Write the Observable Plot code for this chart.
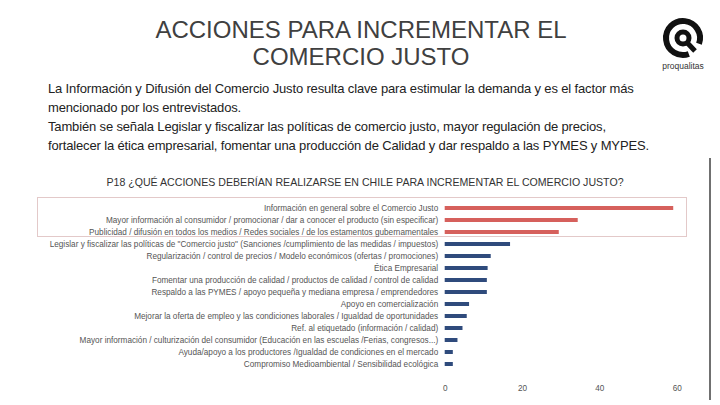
<!DOCTYPE html>
<html>
<head>
<meta charset="utf-8">
<script src="https://cdn.jsdelivr.net/npm/d3@7"></script>
<script src="https://cdn.jsdelivr.net/npm/@observablehq/plot@0.6"></script>
<style>
  html, body { margin: 0; padding: 0; background: #fff; }
  body { width: 720px; height: 405px; position: relative; overflow: hidden; font-family: "Liberation Sans", Arial, sans-serif; }
  #title { position: absolute; left: 0; top: 16px; width: 722px; text-align: center; font-size: 24px; line-height: 27px; color: #404040; }
  #para { position: absolute; left: 48px; top: 79px; font-size: 13px; letter-spacing: -0.15px; line-height: 19px; color: #222; white-space: nowrap; }
  #ctitle { position: absolute; left: 0; top: 176px; width: 730px; text-align: center; font-size: 10.6px; color: #333; }
  #chart { position: absolute; left: 0; top: 160px; }
  #box { position: absolute; left: 37px; top: 197px; width: 650px; height: 40px; border: 1px solid #e3c9c9; box-sizing: border-box; }
  #rline { position: absolute; left: 709px; top: 158px; width: 1.5px; height: 242px; background: #707070; }
  #logo { position: absolute; left: 650px; top: 14px; }
</style>
</head>
<body>
<div id="title">ACCIONES PARA INCREMENTAR EL<br>COMERCIO JUSTO</div>
<div id="para">La Información y Difusión del Comercio Justo resulta clave para estimular la demanda y es el factor más<br>mencionado por los entrevistados.<br>También se señala Legislar y fiscalizar las políticas de comercio justo, mayor regulación de precios,<br>fortalecer la ética empresarial, fomentar una producción de Calidad y dar respaldo a las PYMES y MYPES.</div>
<svg id="logo" width="66" height="62" viewBox="0 0 66 62">
  <path d="M 38.8 40 A 17 17 0 1 1 49 29.8" fill="none" stroke="#111" stroke-width="6"/>
  <circle cx="33" cy="24" r="6" fill="none" stroke="#111" stroke-width="5"/>
  <path d="M 36.5 28 L 45 37" fill="none" stroke="#111" stroke-width="5"/>
  <text x="33" y="55" text-anchor="middle" font-size="8.5" font-family="Liberation Sans, sans-serif" fill="#333">proqualitas</text>
</svg>
<div id="ctitle">P18 ¿QUÉ ACCIONES DEBERÍAN REALIZARSE EN CHILE PARA INCREMENTAR EL COMERCIO JUSTO?</div>
<div id="box"></div>
<div id="rline"></div>
<div id="chart"></div>
<script>
const categories = [
  "Información en general sobre el Comercio Justo",
  "Mayor información al consumidor / promocionar / dar a conocer el producto (sin especificar)",
  "Publicidad / difusión en todos los medios / Redes sociales / de los estamentos gubernamentales",
  "Legislar y fiscalizar las políticas de \"Comercio justo\" (Sanciones /cumplimiento de las medidas / impuestos)",
  "Regularización / control de precios / Modelo económicos (ofertas / promociones)",
  "Ética Empresarial",
  "Fomentar una producción de calidad / productos de calidad / control de calidad",
  "Respaldo a las PYMES / apoyo pequeña y mediana empresa / emprendedores",
  "Apoyo en comercialización",
  "Mejorar la oferta de empleo y las condiciones laborales / Igualdad de oportunidades",
  "Ref. al etiquetado (información / calidad)",
  "Mayor información / culturización del consumidor (Educación en las escuelas /Ferias, congresos...)",
  "Ayuda/apoyo a los productores /Igualdad de condiciones en el mercado",
  "Compromiso Medioambiental / Sensibilidad ecológica"
];
const values = [59.1, 34.4, 29.5, 16.9, 11.9, 11.1, 10.9, 10.9, 6.3, 5.7, 4.6, 3.3, 2.1, 2.1];
const highlighted = [true, true, true, false, false, false, false, false, false, false, false, false, false, false];
const xTicks = [0, 20, 40, 60];

const data = categories.map((c, i) => ({cat: c, value: values[i], hi: highlighted[i]}));

const chart = Plot.plot({
  width: 720,
  height: 240,
  marginLeft: 444.7,
  marginRight: 43.3,
  marginTop: 33.5,
  marginBottom: 22.4,
  style: {fontFamily: "Liberation Sans, Arial, sans-serif", fontSize: "8.2px", color: "#555"},
  x: {domain: [0, 60], ticks: xTicks, label: null},
  y: {domain: categories, padding: 0.68, label: null},
  marks: [
    Plot.gridX(xTicks.filter(d => d > 0), {stroke: "#d9d9d9", strokeOpacity: 1, y1: 37, y2: 215}),
    Plot.barX(data, {y: "cat", x: "value", fill: d => d.hi ? "#d6605c" : "#2f4b7c"}),
    Plot.axisY({tickSize: 0, tickPadding: 7, fill: "#555", fontSize: 8.2}),
    Plot.axisX({ticks: xTicks, tickSize: 0, tickPadding: 7, fill: "#555", fontSize: 8.2})
  ]
});
document.getElementById("chart").appendChild(chart);
</script>
</body>
</html>
